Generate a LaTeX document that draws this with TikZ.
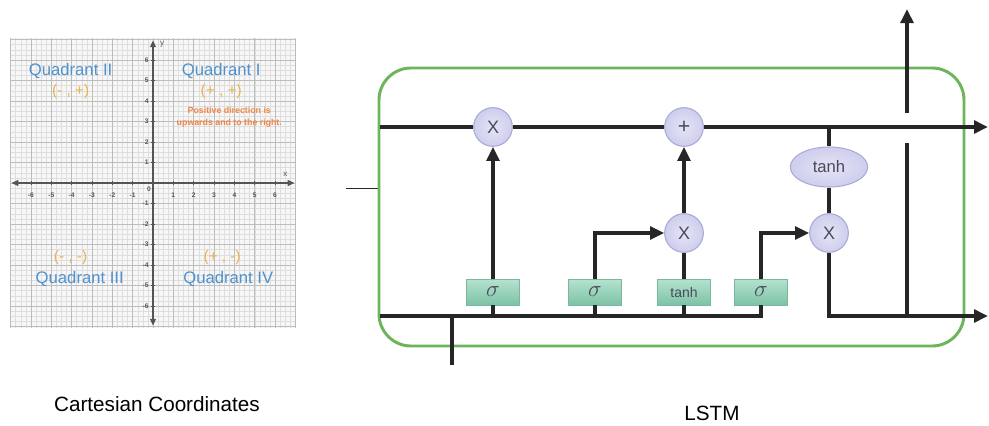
\documentclass[tikz,border=0pt]{standalone}
\usepackage{fontspec}
\setmainfont{Liberation Sans}
\usetikzlibrary{arrows.meta,shapes.geometric}
\definecolor{qblue}{HTML}{4E92CF}
\definecolor{qorange}{HTML}{EDB055}
\definecolor{qred}{HTML}{F08544}
\definecolor{gridmaj}{HTML}{BDBDBD}
\definecolor{gridmin}{HTML}{DEDEDE}
\definecolor{axisc}{HTML}{555555}
\definecolor{cellgreen}{HTML}{6DB55A}
\definecolor{linec}{HTML}{262626}
\definecolor{opfill}{HTML}{D2D2F0}
\definecolor{opedge}{HTML}{A9A9D6}
\definecolor{optext}{HTML}{4A4A5A}
\definecolor{gatetop}{HTML}{B5E2CF}
\definecolor{gatebot}{HTML}{7DC3A6}
\definecolor{gateedge}{HTML}{79B89C}
\newcommand{\sig}{\fontsize{19}{19}\selectfont$\sigma$}
\tikzset{
  flow/.style={draw=linec, line width=3pt},
  flowarrow/.style={flow, -{Triangle[length=10.5pt,width=9.5pt]}},
  opnode/.style={circle, draw=opedge, line width=0.8pt, inner sep=0pt, minimum size=29pt,
    inner color=opfill!60!white, outer color=opfill!90!opedge, text=optext, font=\fontsize{13.5}{13.5}\selectfont},
  tanhnode/.style={ellipse, draw=opedge, line width=0.8pt, inner sep=0pt, minimum width=58pt, minimum height=30pt,
    inner color=opfill!60!white, outer color=opfill!90!opedge, text=optext, font=\fontsize{12.5}{12.5}\selectfont},
  gatenode/.style={rectangle, draw=gateedge, line width=0.6pt, minimum width=40pt, minimum height=19.5pt, inner sep=0pt,
    top color=gatetop, bottom color=gatebot, text=optext},
  quad/.style={text=qblue, font=\fontsize{12.5}{12.5}\selectfont},
  sign/.style={text=qorange, font=\fontsize{11.5}{11.5}\selectfont},
  tick/.style={text=axisc, font=\fontsize{5}{5}\selectfont\bfseries, inner sep=0pt},
  caption/.style={text=black, font=\fontsize{15.5}{15.5}\selectfont},
}
\begin{document}
\begin{tikzpicture}[x=0.75pt, y=-0.75pt]
\useasboundingbox (0,0) rectangle (989,425);
\fill[white] (0,0) rectangle (989,425);

% ---------------- Cartesian coordinates ----------------
\begin{scope}[shift={(153,183)}, x=15.26pt, y=15.375pt]
  \fill[white!97!black] (-7,-7.05) rectangle (7.05,7.05);
  \draw[gridmin, line width=0.35pt, step=0.25] (-7,-7.05) grid (7.05,7.05);
  \draw[gridmaj, line width=0.55pt, step=1] (-7,-7.05) grid (7.05,7.05);
  \draw[axisc, line width=0.9pt, {Triangle[length=5pt,width=4.5pt]}-{Triangle[length=5pt,width=4.5pt]}] (-6.95,0) -- (6.95,0);
  \draw[axisc, line width=0.9pt, {Triangle[length=5pt,width=4.5pt]}-{Triangle[length=5pt,width=4.5pt]}] (0,6.95) -- (0,-6.95);
  \foreach \i in {-6,-5,-4,-3,-2,-1,1,2,3,4,5,6} {
    \draw[axisc, line width=0.5pt] (\i,0.12) -- (\i,-0.12);
    \draw[axisc, line width=0.5pt] (0.12,\i) -- (-0.12,\i);
    \node[tick] (tx\i) at (\i,-0.6) {\i};
    \node[tick, anchor=east] (ty\i) at (-0.2,\i) {\i};
  }
  \node[tick] (t0) at (-0.2,-0.3) {0};
  \node[tick, font=\fontsize{6}{6}\selectfont] (ylab) at (0.45,6.75) {y};
  \node[tick, font=\fontsize{6}{6}\selectfont] (xlab) at (6.5,0.4) {x};
  \node[quad] (q2) at (-4.05,5.45) {Quadrant II};
  \node[sign] (s2q) at (-4.05,4.45) {(- , +)};
  \node[quad] (q1) at (3.35,5.45) {Quadrant I};
  \node[sign] (s1q) at (3.35,4.45) {(+ , +)};
  \node[text=qred, font=\fontsize{6.6}{8.5}\selectfont\bfseries, align=center, inner sep=0pt] (pd) at (3.75,3.2) {Positive direction is\\upwards and to the right.};
  \node[sign] (s3q) at (-4.05,-3.65) {(- , -)};
  \node[quad] (q3) at (-3.6,-4.7) {Quadrant III};
  \node[sign] (s4q) at (3.4,-3.65) {(+ , -)};
  \node[quad] (q4) at (3.7,-4.7) {Quadrant IV};
\end{scope}
\node[caption] (cap1) at (157,404) {Cartesian Coordinates};

% ---------------- LSTM ----------------
\coordinate (st1) at (346,188);
\coordinate (st2) at (379,188);
\draw[linec, line width=0.7pt] (st1) -- (st2);

\draw[cellgreen, line width=2.2pt, rounded corners=24pt] (379,68) rectangle (964,346);

\coordinate (cl) at (380,127);
\coordinate (cr) at (988,127);
\coordinate (bl) at (380,316);
\coordinate (br) at (988,316);
\coordinate (xin) at (452,365);
\coordinate (hv1) at (907,143);
\coordinate (hv2) at (907,113);
\coordinate (hout) at (907,9);
\coordinate (tj) at (829,127);

\node[gatenode] (s1) at (493,292) {\sig};
\node[gatenode] (s2) at (595,292) {\sig};
\node[gatenode, font=\fontsize{10.5}{10.5}\selectfont] (tb) at (684,292) {tanh};
\node[gatenode] (s3) at (761,292) {\sig};

\node[opnode] (x1) at (493,127) {X};
\node[opnode, font=\fontsize{16}{16}\selectfont] (add) at (684,127) {+};
\node[opnode] (x2) at (684,233) {X};
\node[opnode] (x3) at (829,233) {X};
\node[tanhnode] (th) at (829,167) {tanh};

% cell state
\draw[flow] (cl) -- (x1);
\draw[flow] (x1) -- (add);
\draw[flowarrow] (add) -- (cr);
\draw[flow] (tj) -- (th);
\draw[flow] (th) -- (x3);

% bottom line
\draw[flow] (bl) -- (s3.south |- bl) -- (s3.south);
\draw[flow] (s1.south |- bl) -- (s1.south);
\draw[flow] (s2.south |- bl) -- (s2.south);
\draw[flow] (tb.south |- bl) -- (tb.south);
\draw[flow] (xin) -- (xin |- bl);

% gates to ops
\draw[flowarrow] (s1.north) -- (x1.south);
\draw[flowarrow] (s2.north) |- (x2.west);
\draw[flow] (tb.north) -- (x2.south);
\draw[flowarrow] (x2.north) -- (add.south);
\draw[flowarrow] (s3.north) |- (x3.west);

% output
\draw[flowarrow] (x3.south) |- (br);
\draw[flow] (hv1 |- br) -- (hv1);
\draw[flowarrow] (hv2) -- (hout);

\node[caption] (cap2) at (712,413) {LSTM};
\end{tikzpicture}
\end{document}
